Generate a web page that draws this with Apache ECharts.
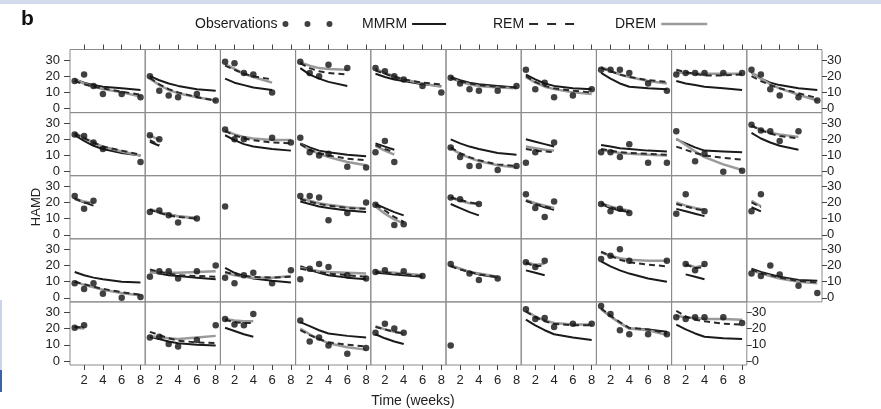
<!DOCTYPE html>
<html>
<head>
    <meta charset="utf-8">
    <title>HAMD panels</title>
    <script src="https://cdn.jsdelivr.net/npm/echarts@6/dist/echarts.min.js"></script>
    <style>
        html, body { margin: 0; padding: 0; background: #fff; }
        #main { width: 881px; height: 409px; }
    </style>
</head>
<body>
<div id="main"></div>
<script type="text/javascript">
    // visit weeks and tick values
    var weeks = [1, 2, 3, 4, 6, 8];
    var xTicks = [2, 4, 6, 8];
    var yTicks = [0, 10, 20, 30];

    // one entry per subject panel, read row by row (values at weeks 1,2,3,4,6,8)
    var obsData = [
        [17, 21, 14, 9, 9, 7], [20, 11, 8, 7, 9, 5], [29, 28, 22, 21, 10], [29, 22, 20, 27, 25], [25, 23, 20, 18, 14, 10],
        [19, 15.5, 12, 11, 11, 14], [24, 12, 16, 7, 8, 12], [24, 24, 24, 22, 15.5, 11], [21, 22, 22, 22, 22, 22], [24, 21, 12, 8, 7, 5],
        [23, 22, 18, 14, null, 6], [22.5, 20], [26, 20, 20, null, 21, 18], [21, 12, 10, 11, 3, 2.5], [12, 19, 6],
        [15, 9, 3.5, 3.5, 1, 3.5], [5.5, 12, null, 18], [12, 12, 9, 17, 5.5, 5.5], [25, null, 6.5, 11, 0, 0.5], [29, 25.5, 25, 19, 25],
        [24, 16, 21], [14, 15, 12, 7.5, 10], [17.5], [24, 24, 23, 9, 13.5, 20], [18.5, null, 6, 6.5],
        [23, 22, null, 19], [25, 16.5, 11, 20.5], [19, 14.5, 16, 13.5], [13, 25, null, 14.5], [14.5, 25],
        [9, 5.5, 9, 2.5, 0, 0.5], [13, 16.5, 16.5, 12, 16.5, 20], [12.5, 9, 14, 15.5, 9, 17], [11.5, 18, 21, 19, 14, 12], [16, 17, null, 16.5, 13.5],
        [21, null, 15, 11, 12], [22, 19, 23], [24, 26, 30, 23, null, 23], [null, 21, 17, 21], [15, 13.5, 20, 14.5, 7.5, 3],
        [20.5, 22], [14.5, 15, 10.5, 9, 13, 22], [26, 22.5, 22, 29], [25, 12, 14.5, 9.5, 4.5, 8], [17.5, 23, 20, 17.5],
        [9.5], [32, 26, 26.5, 21, 23, 23], [34, 29, 19, 16.5, 16.5, 16.5], [27, 26, 27, 27, 27, 23.5]
    ];

    var mmrmData = [
        [18, 16, 14.5, 13.5, 12.5, 11.5], [20, 17.5, 15.5, 14, 12, 11], [18.5, 16, 14.5, 13, 11.5], [25, 21, 18.5, 16.5, 14], [21.5, 19.5, 18, 17, 15, 14],
        [19.5, 17.5, 16, 15, 14, 13], [21, 18, 15.5, 14, 12.5, 12], [22, 18.5, 15.5, 13.5, 12.5, 12], [17, 15.5, 14.5, 13.5, 12.5, 11.5], [22, 18.5, 16, 14.5, 12.5, 11.5],
        [22.5, 19, 16, 14, 11.5, 10], [18.5, 16], [22.5, 19.5, 17, 15.5, 14, 13], [17.5, 15, 13, 12, 10.5, 9.5], [17.5, 15.5, 13.5],
        [20, 17.5, 15.5, 14, 11.5, 10.5], [20, 18.5, 17, 15.5], [16.5, 15.5, 14.5, 14, 13, 12.5], [20, 17.5, 15, 13, 12.5, 12], [24, 20.5, 18, 16, 13.5],
        [22, 20, 18], [15.5, 14, 12.5, 11.5, 10], [], [20.5, 19, 17.5, 16.5, 15, 14], [19, 16.5, 14, 12],
        [19, 16.5, 14, 12], [21, 19, 17, 15.5], [19, 16.5, 15, 14], [16, 14.5, 13, 11.5], [17, 14.5],
        [16, 14, 12.5, 11.5, 10, 9.5], [16, 15, 14, 13.5, 12.5, 11.5], [18.5, 15.5, 13.5, 12, 10.5, 9.5], [19.5, 17.5, 15.5, 14, 12.5, 11.5], [15.5, 15, 14.5, 14, 13],
        [20, 18, 16, 14.5, 12.5], [17, 15.5, 14], [22.5, 19.5, 17, 15, 12, 10], [null, 14.5, 13, 11.5], [18, 16, 14.5, 13, 11, 10.5],
        [21, 20.5], [15, 13.5, 12, 11, 10, 9.5], [20.5, 18.5, 16.5, 15], [24, 21.5, 19, 17, 15.5, 14.5], [16.5, 14, 12, 10.5],
        [], [25.5, 22, 19, 16.5, 14.5, 13], [32, 27.5, 23.5, 20, 19.5, 18], [22.5, 19.5, 17, 15, 14, 13.5]
    ];

    var remData = [
        [17, 15, 13.5, 12.5, 10.5, 8.5], [19, 15, 12, 10, 7, 5], [26.5, 24, 21.5, 20, 18], [28, 25, 23, 22, 21], [23.5, 21.5, 19.5, 18, 16, 15],
        [19, 17, 15.5, 14.5, 13.5, 13], [20, 16.5, 14, 12.5, 11, 10], [25, 23, 21, 19.5, 17.5, 16.5], [24, 22.5, 21.5, 20.5, 20.5, 21], [20, 17, 14.5, 12.5, 9.5, 6.5],
        [23.5, 20.5, 18, 15.5, 13, 10.5], [19.5, 16.5], [25, 22.5, 20.5, 19.5, 18, 17.5], [17, 13.5, 11.5, 10, 8, 7], [16.5, 14, 12],
        [15, 11.5, 9, 7, 4.5, 3.5], [14, 13, 12.5, 12], [14, 13, 12, 11.5, 11, 10.5], [15.5, 13.5, 11.5, 10, 8.5, 7.5], [28.5, 25.5, 23.5, 22, 20.5],
        [22.5, 20, 19], [15.5, 13.5, 12, 11, 10], [], [22, 20.5, 19, 18, 16.5, 16], [18.5, 15, 11, 8],
        [23, 21.5, 20, 19], [21, 19, 17.5, 16], [19.5, 17, 15.5, 14.5], [19, 17.5, 16, 15], [20, 17],
        [10, 8.5, 7, 5.5, 3.5, 2], [17.5, 16, 15, 14, 13.5, 13], [16, 14.5, 13.5, 13, 12.5, 13], [18, 17, 16, 15, 14, 13], [16, 15.5, 15, 14.5, 13.5],
        [19.5, 17.5, 16, 14.5, 13], [21.5, 19.5, 20], [28.5, 26, 23.5, 22, 20.5, 19.5], [null, 20.5, 18.5, 19], [17.5, 15.5, 14, 12.5, 10.5, 9.5],
        [21, 20.5], [18, 16, 14, 12.5, 11.5, 11], [25.5, 24, 23.5, 23.5], [19, 16, 13.5, 11.5, 10, 9], [21, 19.5, 18, 17],
        [], [30.5, 27, 24.5, 23, 22, 22], [32.5, 28, 24, 20.5, 19.5, 17], [31, 27.5, 25.5, 24.5, 23, 22.5]
    ];

    var dremData = [
        [18, 15.5, 13.5, 12, 10, 7.5], [18.5, 14.5, 11.5, 9.5, 7, 5], [27.5, 24.5, 21.5, 19.5, 16], [28.5, 26.5, 25, 24.5, 24], [24.5, 22, 20, 18, 15.5, 13.5],
        [19, 16.5, 15, 14, 13, 12.5], [19.5, 16, 13.5, 12, 10, 9], [25.5, 23.5, 21, 19.5, 17, 15.5], [22.5, 22, 21.5, 21.5, 21.5, 21.5], [22.5, 18.5, 15, 12.5, 8.5, 5],
        [24, 21, 18, 15.5, 12.5, 10], [22.5, 19.5], [25.5, 23, 21.5, 20.5, 19.5, 19.5], [17, 13.5, 11, 9, 6, 4], [16, 13, 10.5],
        [14.5, 11, 8.5, 6.5, 4, 2.5], [15.5, 14.5, 13.5, 13], [13.5, 12.5, 11.5, 11, 10.5, 10], [20.5, 16.5, 12.5, 9, 4.5, 1], [28.5, 26, 24, 23, 21.5],
        [22.5, 20.5, 19.5], [16, 14, 12.5, 11.5, 10.5], [], [22.5, 21, 19.5, 18.5, 17, 16], [17.5, 13, 9.5, 7],
        [23, 21, 19.5, 19], [21.5, 19.5, 18, 16.5], [19.5, 17.5, 16, 15], [20, 18, 16.5, 15.5], [21, 17.5],
        [10, 8, 6.5, 5, 3, 1.5], [15.5, 15.5, 15.5, 15.5, 16, 16.5], [15.5, 14, 13, 12.5, 12.5, 13.5], [18.5, 17.5, 16.5, 16, 15.5, 15], [16.5, 16, 15.5, 15, 14],
        [20, 18, 16, 15, 13], [22, 20.5, 21], [28, 26, 24.5, 23.5, 23, 23], [null, 21, 19, 20], [17, 15, 13.5, 12, 10, 9],
        [20.5, 20], [15.5, 14.5, 14, 13.5, 14.5, 15.5], [26, 25, 24.5, 24.5], [20, 16.5, 13.5, 11, 8.5, 7], [21.5, 19.5, 18, 17],
        [], [31, 27.5, 25, 23.5, 22.5, 22.5], [32, 27.5, 23.5, 20, 19, 16], [28, 27, 26.5, 26, 26, 25.5]
    ];

    var chart = echarts.init(document.getElementById('main'));
    var font = 'Liberation Sans, Arial, sans-serif';

    // panel layout
    var left0 = 70, top0 = 49.5, cellW = 75.2, cellH = 63.1;

    function pts(arr) {
        var out = [];
        for (var k = 0; k < weeks.length; k++) {
            if (arr[k] != null) out.push([weeks[k], arr[k]]);
        }
        return out;
    }

    var grids = [], xAxes = [], yAxes = [], series = [];
    var tickColor = '#444';
    var labelStyle = { fontSize: 13, color: '#222', fontFamily: font };

    for (var i = 0; i < obsData.length; i++) {
        var r = Math.floor(i / 10), c = i % 10;
        var bottomRow = (r === 4);
        var rightEdge = (c === 9) || (r === 4 && c === 8);

        grids.push({
            left: left0 + c * cellW, top: top0 + r * cellH, width: cellW, height: cellH,
            show: true, borderColor: '#8a8a8a', borderWidth: 1
        });

        var xi = xAxes.length;
        xAxes.push({
            type: 'value', gridIndex: i, min: 0.5, max: 8.5, position: 'bottom',
            axisLine: { show: false, onZero: false }, splitLine: { show: false },
            axisTick: { show: bottomRow, customValues: xTicks, length: 5, lineStyle: { color: tickColor } },
            axisLabel: Object.assign({ show: bottomRow, customValues: xTicks, margin: 9 }, labelStyle)
        });
        if (r === 0) {
            xAxes.push({
                type: 'value', gridIndex: i, min: 0.5, max: 8.5, position: 'top',
                axisLine: { show: false, onZero: false }, splitLine: { show: false },
                axisTick: { show: true, customValues: xTicks, length: 5, lineStyle: { color: tickColor } },
                axisLabel: { show: false }
            });
        }

        var yi = yAxes.length;
        yAxes.push({
            type: 'value', gridIndex: i, min: -2.5, max: 36.5, position: 'left',
            axisLine: { show: false, onZero: false }, splitLine: { show: false },
            axisTick: { show: c === 0, customValues: yTicks, length: 6, lineStyle: { color: tickColor } },
            axisLabel: Object.assign({ show: c === 0, customValues: yTicks, margin: 10 }, labelStyle)
        });
        if (rightEdge) {
            yAxes.push({
                type: 'value', gridIndex: i, min: -2.5, max: 36.5, position: 'right',
                axisLine: { show: false, onZero: false }, splitLine: { show: false },
                axisTick: { show: true, customValues: yTicks, length: 5, lineStyle: { color: tickColor } },
                axisLabel: Object.assign({ show: true, customValues: yTicks, margin: 5 }, labelStyle)
            });
        }

        series.push({
            name: 'MMRM', type: 'line', xAxisIndex: xi, yAxisIndex: yi, data: pts(mmrmData[i]),
            symbol: 'none', color: '#1a1a1a', lineStyle: { width: 2, color: '#1a1a1a' }, z: 2
        });
        series.push({
            name: 'DREM', type: 'line', xAxisIndex: xi, yAxisIndex: yi, data: pts(dremData[i]),
            symbol: 'none', color: '#9a9a9a', lineStyle: { width: 2.5, color: '#9a9a9a' }, z: 3
        });
        series.push({
            name: 'REM', type: 'line', xAxisIndex: xi, yAxisIndex: yi, data: pts(remData[i]),
            symbol: 'none', color: '#2a2a2a', lineStyle: { width: 2, color: '#2a2a2a', type: [6, 4] }, z: 4
        });
        series.push({
            name: 'Observations', type: 'scatter', xAxisIndex: xi, yAxisIndex: yi, data: pts(obsData[i]),
            symbol: 'circle', symbolSize: 6.5, itemStyle: { color: '#111' }, z: 5
        });
    }

    // legend: text first, key to its right
    function legendItem(name, left, icon, w, h, color) {
        return {
            left: left, top: 12, align: 'right', itemWidth: w, itemHeight: h,
            selectedMode: false,
            itemStyle: { color: color, borderWidth: 0 },
            textStyle: { fontSize: 14, color: '#1a1a1a', fontFamily: font },
            data: [{ name: name, icon: icon }]
        };
    }

    var dots = 'path://M0,3a3,3 0 1,0 6,0a3,3 0 1,0 -6,0zM22,3a3,3 0 1,0 6,0a3,3 0 1,0 -6,0zM44,3a3,3 0 1,0 6,0a3,3 0 1,0 -6,0z';

    chart.setOption({
        animation: false,
        backgroundColor: '#fff',
        legend: [
            legendItem('Observations', 190, dots, 50, 6, '#111'),
            legendItem('MMRM', 357, 'path://M0,0h34v2h-34z', 34, 2, '#1a1a1a'),
            legendItem('REM', 488, 'path://M0,0h9v2h-9zM18,0h9v2h-9zM36,0h9v2h-9z', 45, 2, '#2a2a2a'),
            legendItem('DREM', 610, 'path://M0,0h46v2.5h-46z', 46, 2.5, '#9a9a9a')
        ],
        grid: grids,
        xAxis: xAxes,
        yAxis: yAxes,
        series: series,
        graphic: [
            { type: 'rect', left: 0, top: 0, shape: { width: 881, height: 4 }, style: { fill: '#d3dcea' }, silent: true },
            { type: 'rect', left: 0, top: 300, shape: { width: 2, height: 70 }, style: { fill: '#c9d4e6' }, silent: true },
            { type: 'rect', left: 0, top: 370, shape: { width: 2, height: 22 }, style: { fill: '#3a64a8' }, silent: true },
            { type: 'text', left: 21, top: 9, style: { text: 'b', font: 'bold 21px ' + font, fill: '#111' } },
            {
                type: 'text', x: 36, y: 207, rotation: Math.PI / 2,
                style: { text: 'HAMD', font: '13px ' + font, fill: '#222', align: 'center', verticalAlign: 'middle' }
            },
            {
                type: 'text', x: 413, y: 401,
                style: { text: 'Time (weeks)', font: '14px ' + font, fill: '#222', align: 'center', verticalAlign: 'middle' }
            }
        ]
    });
</script>
</body>
</html>
